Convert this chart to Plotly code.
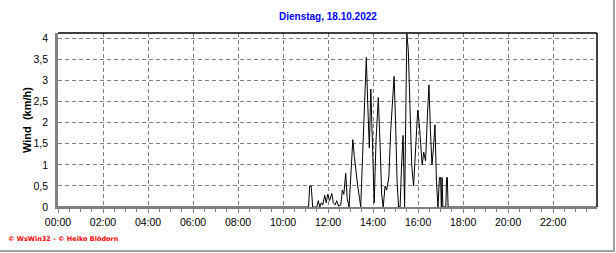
import plotly.graph_objects as go

DAY = "2022-10-18"
TITLE = "Dienstag, 18.10.2022"
Y_TITLE = "Wind  (km/h)"
FOOTER = "© WsWin32 - © Heiko Blödorn"

times = ["00:00", "11:00", "11:08", "11:11", "11:15", "11:19", "11:30", "11:34", "11:38",
         "11:42", "11:46", "11:51", "11:55", "11:59", "12:04", "12:10", "12:14", "12:19",
         "12:23", "12:28", "12:34", "12:38", "12:42", "12:47", "12:51", "12:56", "13:00",
         "13:06", "13:10", "13:15", "13:19", "13:24", "13:27", "13:32", "13:38", "13:42",
         "13:46", "13:50", "13:54", "13:59", "14:03", "14:08", "14:14", "14:19", "14:23",
         "14:27", "14:32", "14:36", "14:42", "14:47", "14:52", "14:56", "15:00", "15:04",
         "15:08", "15:12", "15:16", "15:20", "15:24", "15:28", "15:30", "15:34", "15:38",
         "15:43", "15:48", "15:54", "15:59", "16:03", "16:07", "16:11", "16:15", "16:20",
         "16:25", "16:29", "16:33", "16:37", "16:41", "16:45", "16:49", "16:53", "16:57",
         "17:00", "17:02", "17:04", "17:06", "17:14", "17:16", "17:18", "17:20", "23:55"]
wind = [0, 0, 0, 0.5, 0.5, 0, 0, 0.15, 0,
        0.1, 0.05, 0.28, 0.1, 0.3, 0.15, 0.32, 0.1, 0.05,
        0.15, 0.02, 0.05, 0.4, 0.3, 0.8, 0.2, 0, 0.6,
        1.6, 1.2, 0.7, 0.5, 0.2, 0, 1.2, 2.6, 3.55,
        2.4, 1.4, 2.8, 1.0, 0.1, 1.6, 2.6, 1.4, 0.3,
        0, 0.5, 0.4, 0.7, 1.8, 2.6, 3.1, 2.0, 0.6,
        0, 0, 1.0, 1.7, 0, 2.5, 4.12, 3.7, 2.2,
        1.0, 0.5, 1.4, 2.3, 2.0, 1.5, 1.0, 1.3, 1.1,
        2.2, 2.9, 1.8, 1.0, 1.4, 1.95, 0.6, 0, 0.7,
        0.7, 0, 0.7, 0, 0, 0.7, 0.7, 0, 0]

y_tickvals = [0, 0.5, 1, 1.5, 2, 2.5, 3, 3.5, 4]
y_ticktext = ["0", "0,5", "1", "1,5", "2", "2,5", "3", "3,5", "4"]

x = [f"{DAY} {t}" for t in times]

fig = go.Figure()
fig.add_trace(go.Scatter(x=x, y=wind, mode="lines",
                         line=dict(color="black", width=1), hoverinfo="skip",
                         showlegend=False))

GRID = "#808080"
fig.update_layout(
    width=616, height=253,
    margin=dict(l=58, r=19, t=33, b=46),
    paper_bgcolor="white", plot_bgcolor="white",
    font=dict(family="Liberation Sans, Arial, sans-serif", size=10.5, color="black"),
    showlegend=False,
    xaxis=dict(
        type="date",
        range=[f"{DAY} 00:00", f"{DAY} 23:57"],
        tick0=f"{DAY} 00:00", dtick=2 * 3600 * 1000,
        tickformat="%H:%M",
        showgrid=True, gridcolor=GRID, gridwidth=1, griddash="4px,3px",
        ticks="outside", ticklen=4, tickcolor=GRID, tickwidth=1,
        minor=dict(dtick=1800 * 1000, tick0=f"{DAY} 00:00", ticks="outside",
                   ticklen=3, tickcolor=GRID, tickwidth=1, showgrid=False),
        showline=True, linecolor=GRID, linewidth=2,
        zeroline=False, fixedrange=True,
    ),
    yaxis=dict(
        range=[0, 4.13],
        tickvals=y_tickvals, ticktext=y_ticktext,
        showgrid=True, gridcolor=GRID, gridwidth=1, griddash="4px,3px",
        ticks="outside", ticklen=5, tickcolor="rgba(0,0,0,0)",
        showline=True, linecolor=GRID, linewidth=2.5,
        zeroline=False, fixedrange=True,
    ),
)

# plot frame: black top and right borders
fig.add_shape(type="line", xref="paper", yref="paper", x0=0, x1=1, y0=1, y1=1,
              line=dict(color="black", width=1.5))
fig.add_shape(type="line", xref="paper", yref="paper", x0=1, x1=1, y0=0, y1=1,
              line=dict(color="black", width=1.5))
# outer panel edges (gray, right and bottom)
fig.add_shape(type="line", xref="paper", yref="paper",
              x0=(614 - 58) / 539, x1=(614 - 58) / 539, y0=(207 - 252) / 174, y1=207 / 174,
              line=dict(color="#a0a0a0", width=2))
fig.add_shape(type="line", xref="paper", yref="paper",
              x0=-58 / 539, x1=(615 - 58) / 539, y0=(207 - 251) / 174, y1=(207 - 251) / 174,
              line=dict(color="#a0a0a0", width=2))

fig.add_annotation(text=TITLE, xref="paper", yref="paper", x=0.5, y=(207 - 17) / 174,
                   xanchor="center", yanchor="middle", showarrow=False,
                   font=dict(family="Liberation Sans, Arial, sans-serif", size=10,
                             color="#0000ff", weight="bold"))
fig.add_annotation(text=Y_TITLE, xref="paper", yref="paper", x=(27 - 58) / 539, y=0.5,
                   xanchor="center", yanchor="middle", textangle=-90, showarrow=False,
                   font=dict(family="Liberation Sans, Arial, sans-serif", size=11,
                             color="black", weight="bold"))
fig.add_annotation(text=FOOTER, xref="paper", yref="paper", x=(6 - 58) / 539,
                   y=(207 - 239) / 174, xanchor="left", yanchor="middle", showarrow=False,
                   font=dict(family="DejaVu Sans, sans-serif", size=6.5,
                             color="#ff0000", weight="bold"))

fig.write_html("out.html")
